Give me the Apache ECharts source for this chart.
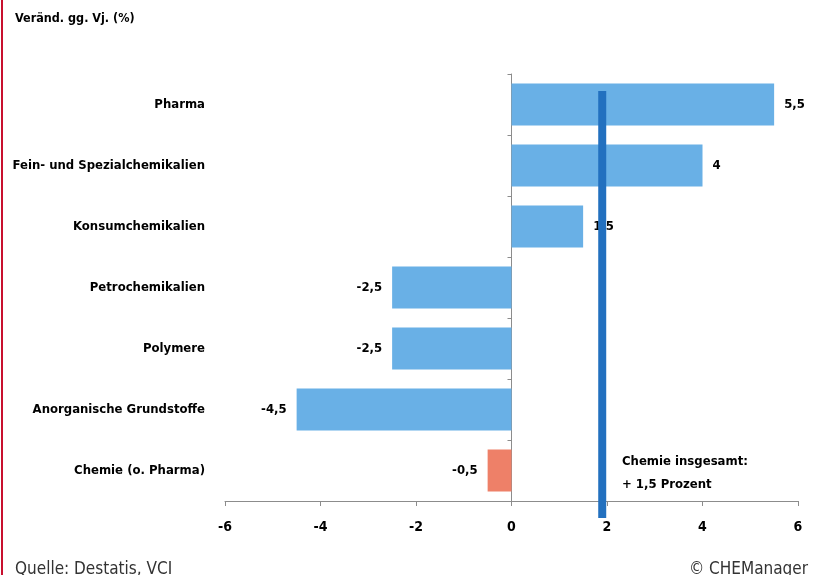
<!DOCTYPE html>
<html>
<head>
<meta charset="utf-8">
<script src="https://cdn.jsdelivr.net/npm/echarts@6/dist/echarts.min.js"></script>
<style>
  html, body { margin: 0; padding: 0; background: #fff; }
  #chart { width: 813px; height: 575px; }
</style>
</head>
<body>
<div id="chart"></div>
<script>
// Production change by segment, percent vs. previous year
const categories = [
  'Pharma',
  'Fein- und Spezialchemikalien',
  'Konsumchemikalien',
  'Petrochemikalien',
  'Polymere',
  'Anorganische Grundstoffe',
  'Chemie (o. Pharma)'
];
const changes = [5.5, 4, 1.5, -2.5, -2.5, -4.5, -0.5];
const highlightCategory = 'Chemie (o. Pharma)';
const xTicks = { min: -6, max: 6, step: 2 };
const totalMarker = 1.9;
const totalText = ['Chemie insgesamt:', '+ 1,5 Prozent'];

const FONT = '"Liberation Sans Narrow", "DejaVu Sans Condensed", "Noto Sans", sans-serif';
const BAR_BLUE = '#69b0e6';
const BAR_ORANGE = '#ee8068';
const LINE_BLUE = '#2270bf';
const AXIS_GRAY = '#8c8c8c';

const fmt = v => String(v).replace('.', ',');

const chart = echarts.init(document.getElementById('chart'), null, { renderer: 'canvas' });

const barData = changes.map((v, i) => ({
  value: v,
  itemStyle: { color: categories[i] === highlightCategory ? BAR_ORANGE : BAR_BLUE },
  label: { position: v >= 0 ? 'right' : 'left' }
}));

chart.setOption({
  animation: false,
  backgroundColor: '#fff',
  grid: { left: 225, right: 15, top: 74, bottom: 74, containLabel: false, outerBoundsMode: 'none' },
  xAxis: {
    type: 'value',
    min: xTicks.min,
    max: xTicks.max,
    interval: xTicks.step,
    splitLine: { show: false },
    axisLine: { show: true, lineStyle: { color: AXIS_GRAY, width: 1 } },
    axisTick: { show: true, length: 5, lineStyle: { color: AXIS_GRAY } },
    axisLabel: {
      margin: 19,
      color: '#000',
      fontFamily: FONT,
      fontWeight: 'bold',
      fontSize: 14,
      formatter: v => fmt(v)
    }
  },
  yAxis: [
    {
      type: 'category',
      data: categories,
      inverse: true,
      axisLine: { show: true, onZero: true, lineStyle: { color: AXIS_GRAY, width: 1 } },
      axisTick: { show: true, length: 4, lineStyle: { color: AXIS_GRAY } },
      axisLabel: { show: false }
    },
    {
      type: 'category',
      data: categories,
      inverse: true,
      position: 'left',
      axisLine: { show: false, onZero: false },
      axisTick: { show: false },
      axisLabel: {
        margin: 20,
        color: '#000',
        fontFamily: FONT,
        fontWeight: 'bold',
        fontSize: 13
      }
    }
  ],
  series: [{
    type: 'bar',
    xAxisIndex: 0,
    yAxisIndex: 0,
    data: barData,
    barCategoryGap: '31%',
    label: {
      show: true,
      distance: 10,
      color: '#000',
      fontFamily: FONT,
      fontWeight: 'bold',
      fontSize: 13,
      formatter: p => fmt(p.value)
    }
  }]
});

// Vertical marker for the industry total, placed through the x scale
const markerX = chart.convertToPixel({ xAxisIndex: 0 }, totalMarker);

chart.setOption({
  graphic: [
    // red page rule on the left edge
    { type: 'rect', left: 1, top: 0, shape: { width: 2, height: 575 }, style: { fill: '#c8102e' }, silent: true },
    {
      type: 'text', left: 15, top: 12,
      style: { text: 'Veränd. gg. Vj. (%)', fill: '#000', font: 'bold 12.5px ' + FONT }
    },
    {
      type: 'rect', z: 10,
      shape: { x: markerX - 4, y: 91, width: 8, height: 427 },
      style: { fill: LINE_BLUE }
    },
    {
      type: 'text', left: 622, top: 455,
      style: { text: totalText[0], fill: '#000', font: 'bold 13px ' + FONT }
    },
    {
      type: 'text', left: 622, top: 478,
      style: { text: totalText[1], fill: '#000', font: 'bold 13px ' + FONT }
    },
    {
      type: 'text', left: 15, top: 561,
      style: { text: 'Quelle: Destatis, VCI', fill: '#333', font: '17px ' + FONT }
    },
    {
      type: 'text', right: 5, top: 561,
      style: { text: '© CHEManager', fill: '#333', font: '17px ' + FONT }
    }
  ]
});
</script>
</body>
</html>
